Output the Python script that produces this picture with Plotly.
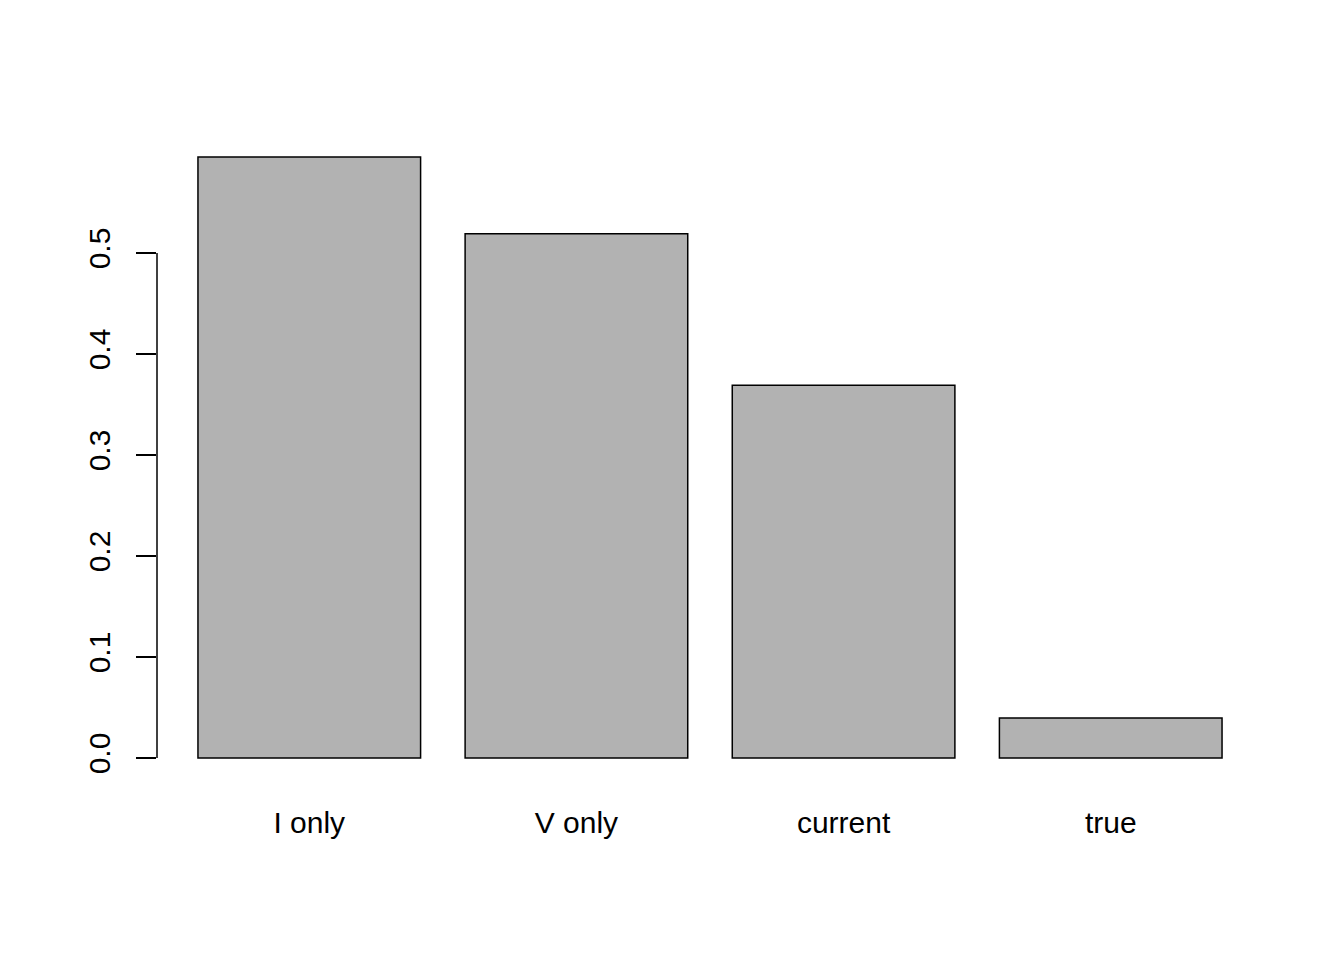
import plotly.graph_objects as go

categories = ["I only", "V only", "current", "true"]
values = [0.595, 0.519, 0.369, 0.0395]
y_ticks = [0.0, 0.1, 0.2, 0.3, 0.4, 0.5]

# R barplot layout: width 1, space 0.2
positions = [0.7 + 1.2 * i for i in range(len(categories))]
xlo, xhi = 0.2, 0.2 + 1.2 * len(categories) - 0.2
xpad = 0.04 * (xhi - xlo)
ymax = max(values)
ypad = 0.04 * ymax

FONT = "Liberation Sans, Arial, Helvetica, sans-serif"

fig = go.Figure(
    go.Bar(
        x=positions,
        y=values,
        width=1,
        marker=dict(color="#B2B2B2", line=dict(color="black", width=1.5)),
        hoverinfo="skip",
    )
)

fig.update_layout(
    width=1344,
    height=960,
    paper_bgcolor="white",
    plot_bgcolor="white",
    showlegend=False,
    margin=dict(l=149, r=89, t=125, b=186),
    font=dict(family=FONT, size=30, color="black"),
    xaxis=dict(
        range=[xlo - xpad, xhi + xpad],
        tickmode="array",
        tickvals=positions,
        ticktext=categories,
        ticks="",
        showgrid=False,
        zeroline=False,
        showline=False,
        ticklabelstandoff=20,
    ),
    yaxis=dict(
        range=[-ypad, ymax + ypad],
        tickmode="array",
        tickvals=y_ticks,
        ticktext=[f"{v:.1f}" for v in y_ticks],
        ticks="outside",
        ticklen=20,
        tickwidth=1.5,
        tickcolor="black",
        tickangle=-90,
        showgrid=False,
        zeroline=False,
        showline=False,
        ticklabelstandoff=14,
    ),
    shapes=[
        dict(
            type="line",
            xref="paper",
            yref="y",
            x0=0,
            x1=0,
            y0=y_ticks[0],
            y1=y_ticks[-1],
            line=dict(color="black", width=1.5),
        )
    ],
)

fig.write_html("out.html")
